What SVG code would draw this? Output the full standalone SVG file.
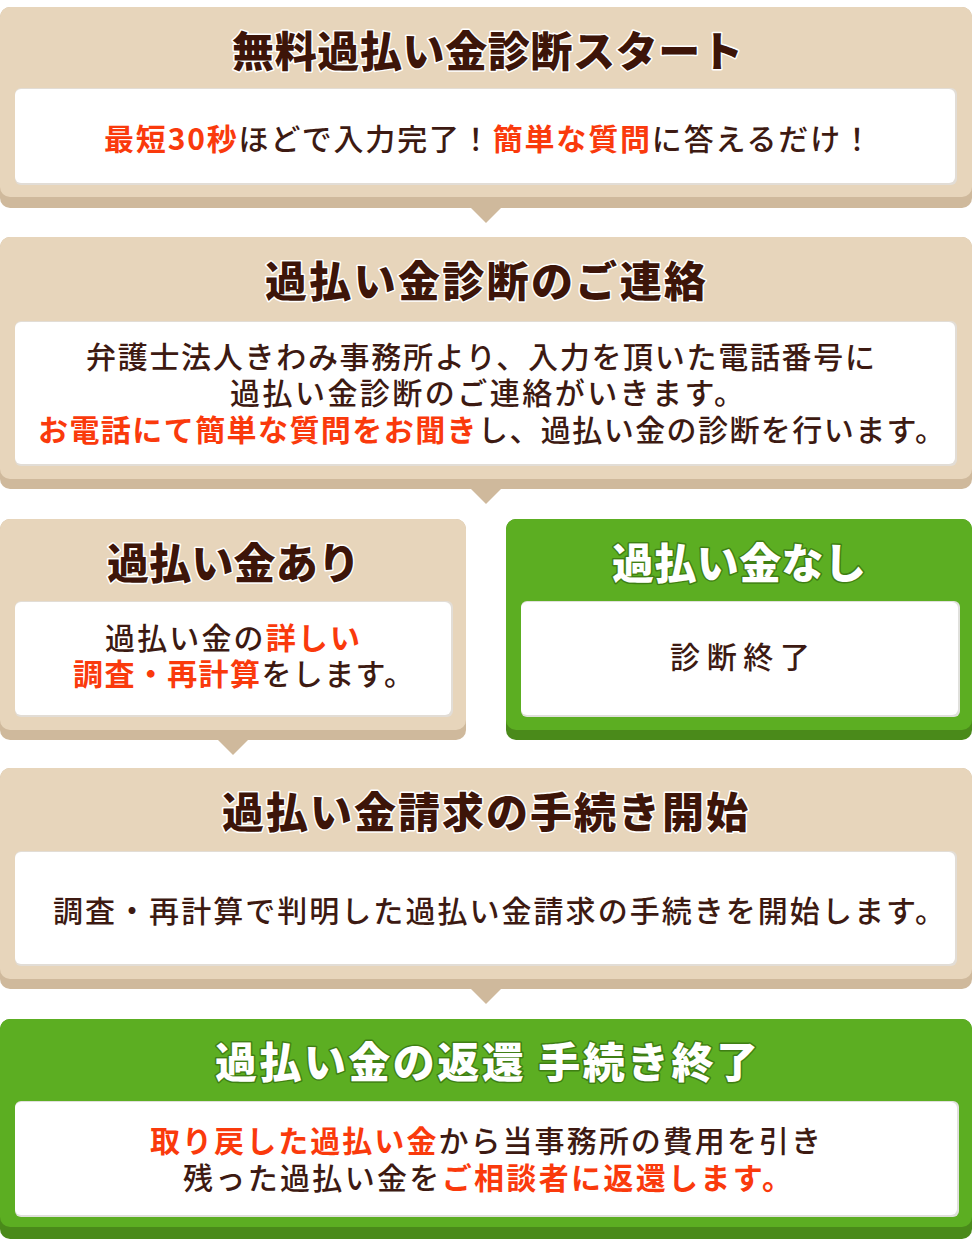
<svg xmlns="http://www.w3.org/2000/svg" width="972" height="1240" viewBox="0 0 972 1240">
<style>
.bg{fill:#e7d5bb}
.bgs{fill:#cfb99c}
.gr{fill:#5cae22}
.grs{fill:#4a8a1a}
.inner{fill:#ffffff}
.innerb{fill:#e2ddd6}
.innerg{fill:#e0e0dc}
.t{font-family:"Noto Sans CJK JP","Noto Sans",sans-serif;font-size:42px;font-weight:900;fill:#3d1509;stroke:#ffffff;stroke-width:3;stroke-linejoin:round;paint-order:stroke}
.tg{font-family:"Noto Sans CJK JP","Noto Sans",sans-serif;font-size:42px;font-weight:900;fill:#ffffff;stroke:#3f7f14;stroke-width:3;stroke-linejoin:round;paint-order:stroke}
.b{font-family:"Noto Sans CJK JP","Noto Sans",sans-serif;font-size:30px;font-weight:500;fill:#3d1a12}
.r{fill:#fa3a0c;font-weight:700}
.notch{fill:#cfb99c}
</style>

<g id="connectors">
<polygon class="notch" points="470,207 502,207 486,223"/>
<polygon class="notch" points="470,488 502,488 486,504"/>
<polygon class="notch" points="217,739 249,739 233,755"/>
<polygon class="notch" points="470,988 502,988 486,1004"/>
</g>

<g id="node-start">
<rect class="bgs" x="0" y="7" width="972" height="201" rx="10"/>
<rect class="bg" x="0" y="7" width="972" height="190" rx="10"/>
<rect class="innerb" x="15" y="88" width="942" height="97" rx="6"/>
<rect class="inner" x="15" y="89" width="940" height="94" rx="6"/>
<text class="t" x="232" y="67" textLength="511" lengthAdjust="spacing">無料過払い金診断スタート</text>
<text class="b" x="104" y="150" textLength="768" lengthAdjust="spacing"><tspan class="r">最短30秒</tspan>ほどで入力完了！<tspan class="r">簡単な質問</tspan>に答えるだけ！</text>
</g>

<g id="node-contact">
<rect class="bgs" x="0" y="237" width="972" height="252" rx="10"/>
<rect class="bg" x="0" y="237" width="972" height="242" rx="10"/>
<rect class="innerb" x="15" y="321" width="942" height="145" rx="6"/>
<rect class="inner" x="15" y="322" width="940" height="142" rx="6"/>
<text class="t" x="265" y="297" textLength="441" lengthAdjust="spacing">過払い金診断のご連絡</text>
<text class="b" x="86" y="368" textLength="789" lengthAdjust="spacing">弁護士法人きわみ事務所より、入力を頂いた電話番号に</text>
<text class="b" x="230" y="404" textLength="514" lengthAdjust="spacing">過払い金診断のご連絡がいきます。</text>
<text class="b" x="38" y="441" textLength="907" lengthAdjust="spacing"><tspan class="r">お電話にて簡単な質問をお聞き</tspan>し、過払い金の診断を行います。</text>
</g>

<g id="node-yes">
<rect class="bgs" x="0" y="519" width="466" height="221" rx="10"/>
<rect class="bg" x="0" y="519" width="466" height="211" rx="10"/>
<rect class="innerb" x="15" y="601" width="438" height="116" rx="6"/>
<rect class="inner" x="15" y="602" width="436" height="113" rx="6"/>
<text class="t" x="107" y="579" textLength="253" lengthAdjust="spacing">過払い金あり</text>
<text class="b" x="105" y="649" textLength="255" lengthAdjust="spacing">過払い金の<tspan class="r">詳しい</tspan></text>
<text class="b" x="73" y="685" textLength="341" lengthAdjust="spacing"><tspan class="r">調査・再計算</tspan>をします。</text>
</g>

<g id="node-no">
<rect class="grs" x="506" y="519" width="466" height="221" rx="10"/>
<rect class="gr" x="506" y="519" width="466" height="211" rx="10"/>
<rect class="innerg" x="521" y="601" width="439" height="116" rx="6"/>
<rect class="inner" x="521" y="602" width="437" height="113" rx="6"/>
<text class="tg" x="612" y="579" textLength="254" lengthAdjust="spacing">過払い金なし</text>
<text class="b" x="670" y="668" textLength="140" lengthAdjust="spacing">診断終了</text>
</g>

<g id="node-claim">
<rect class="bgs" x="0" y="768" width="972" height="221" rx="10"/>
<rect class="bg" x="0" y="768" width="972" height="211" rx="10"/>
<rect class="innerb" x="15" y="851" width="942" height="115" rx="6"/>
<rect class="inner" x="15" y="852" width="940" height="112" rx="6"/>
<text class="t" x="222" y="828" textLength="526" lengthAdjust="spacing">過払い金請求の手続き開始</text>
<text class="b" x="53" y="922" textLength="892" lengthAdjust="spacing">調査・再計算で判明した過払い金請求の手続きを開始します。</text>
</g>

<g id="node-return">
<rect class="grs" x="0" y="1019" width="972" height="220" rx="10"/>
<rect class="gr" x="0" y="1019" width="972" height="208" rx="10"/>
<rect class="innerg" x="15" y="1101" width="944" height="116" rx="6"/>
<rect class="inner" x="15" y="1102" width="942" height="113" rx="6"/>
<text class="tg" x="215" y="1078" textLength="543" lengthAdjust="spacing">過払い金の返還 手続き終了</text>
<text class="b" x="150" y="1152" textLength="671" lengthAdjust="spacing"><tspan class="r">取り戻した過払い金</tspan>から当事務所の費用を引き</text>
<text class="b" x="183" y="1189" textLength="609" lengthAdjust="spacing">残った過払い金を<tspan class="r">ご相談者に返還します。</tspan></text>
</g>
</svg>
